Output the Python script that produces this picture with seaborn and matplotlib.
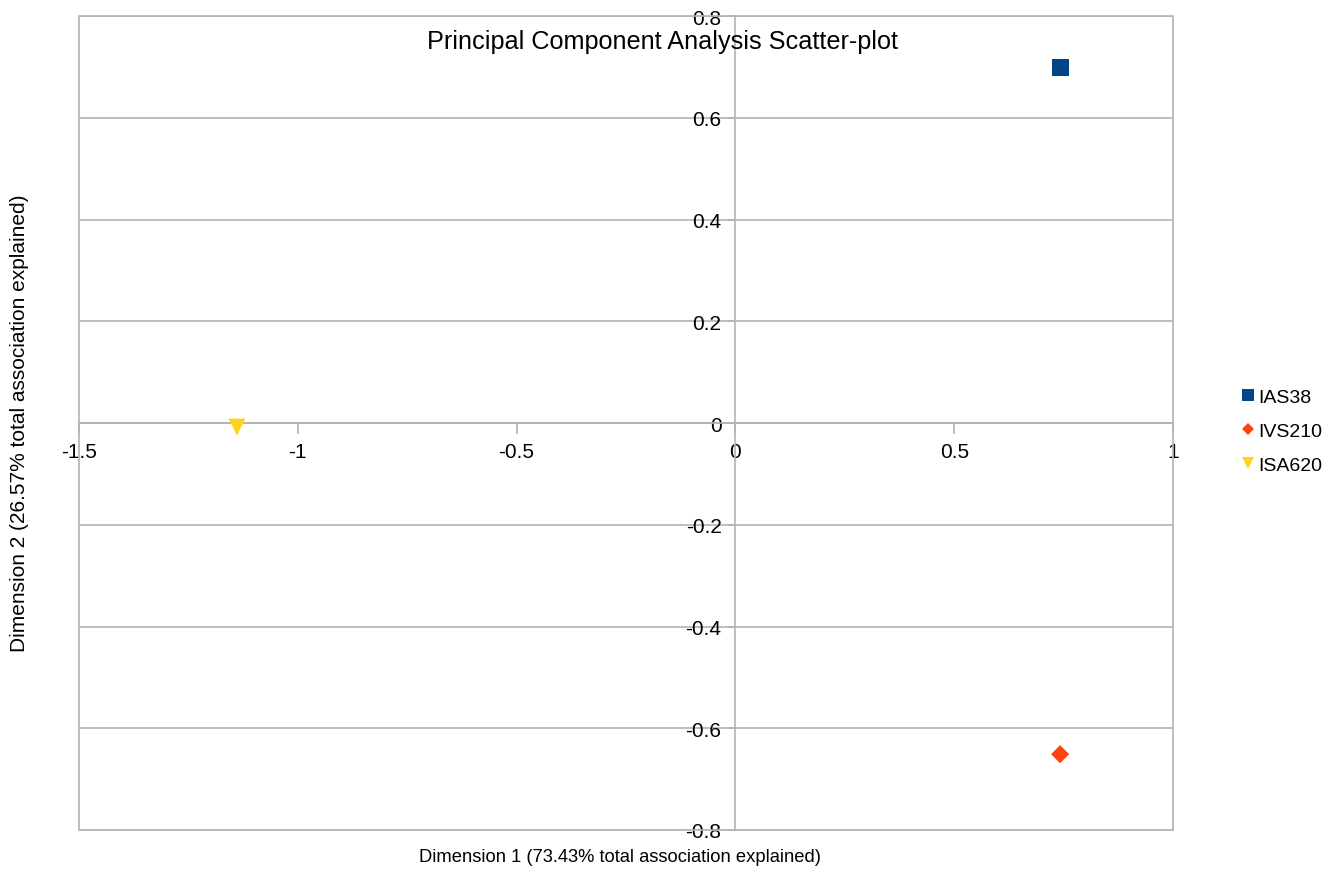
import pandas as pd
import seaborn as sns
import matplotlib.pyplot as plt
from matplotlib.patches import Rectangle

# points
samples = ['IAS38', 'IVS210', 'ISA620']
dim1 = [0.742, 0.742, -1.139]
dim2 = [0.698, -0.651, -0.008]

colors = {'IAS38': '#004586', 'IVS210': '#ff420e', 'ISA620': '#ffd320'}
markers = {'IAS38': 's', 'IVS210': 'D', 'ISA620': 'v'}
sizes = {'IAS38': 150, 'IVS210': 85, 'ISA620': 150}

df = pd.DataFrame({'sample': samples, 'dim1': dim1, 'dim2': dim2})

sns.set_style('white')
plt.rcParams['font.family'] = ['Liberation Sans', 'DejaVu Sans']
plt.rcParams['text.color'] = 'black'
plt.rcParams['xtick.labelcolor'] = 'black'
plt.rcParams['ytick.labelcolor'] = 'black'

fig = plt.figure(figsize=(13.31, 8.70), dpi=100)
ax = fig.add_axes([79 / 1331, 1 - 831 / 870, (1173 - 79) / 1331, (831 - 17) / 870])

sns.scatterplot(data=df, x='dim1', y='dim2', hue='sample', style='sample', size='sample',
                palette=colors, markers=markers, sizes=sizes, linewidth=0, ax=ax, zorder=5)

grey = '#b3b3b3'
ax.set_xlim(-1.5, 1)
ax.set_ylim(-0.8, 0.8)
ax.set_xticks([-1.5, -1, -0.5, 0, 0.5, 1])
ax.set_xticklabels(['-1.5', '-1', '-0.5', '0', '0.5', '1'])
ax.set_yticks([-0.8, -0.6, -0.4, -0.2, 0, 0.2, 0.4, 0.6, 0.8])
ax.set_yticklabels(['-0.8', '-0.6', '-0.4', '-0.2', '0', '0.2', '0.4', '0.6', '0.8'])
ax.yaxis.grid(True, color=grey, linewidth=1.2)
ax.xaxis.grid(False)

# axes cross at zero, outer frame kept
for side in ['top', 'right']:
    ax.spines[side].set_visible(False)
ax.spines['left'].set_position(('data', 0))
ax.spines['bottom'].set_position(('data', 0))
for side in ['left', 'bottom']:
    ax.spines[side].set_color(grey)
    ax.spines[side].set_linewidth(1.2)
ax.add_patch(Rectangle((0, 0), 1, 1, transform=ax.transAxes, fill=False,
                       edgecolor=grey, linewidth=1.2, clip_on=False))

ax.tick_params(axis='x', direction='out', length=8, width=1.2, color=grey,
               labelsize=15, pad=6, bottom=True)
ax.tick_params(axis='y', direction='out', length=5, width=1.2, color=grey,
               labelsize=15, pad=5, left=True)

ax.set_xlabel('')
ax.set_ylabel('')
fig.text(620 / 1331, 1 - 858 / 870, 'Dimension 1 (73.43% total association explained)',
         ha='center', va='center', fontsize=13.2)
fig.text(20 / 1331, 1 - 423 / 870, 'Dimension 2 (26.57% total association explained)',
         ha='center', va='center', rotation=90, fontsize=15)
fig.text(0.498, 1 - 42 / 870, 'Principal Component Analysis Scatter-plot',
         ha='center', va='center', fontsize=18.2)

sns.move_legend(ax, 'center left', bbox_to_anchor=(1221 / 1331, 1 - 432 / 870),
                bbox_transform=fig.transFigure, title=None, frameon=False,
                fontsize=14, handletextpad=0.0, labelspacing=0.85, markerscale=0.7,
                handlelength=1.0)

fig.savefig('out.png', dpi=100)
